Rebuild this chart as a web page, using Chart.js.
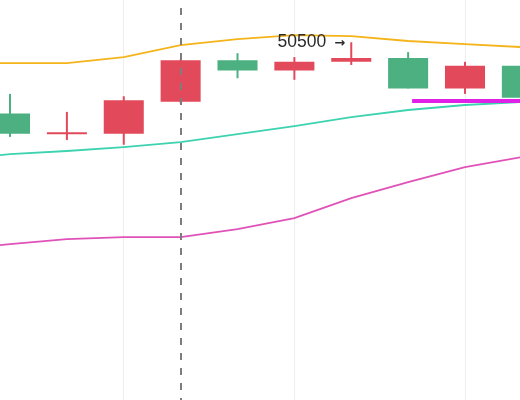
<!DOCTYPE html>
<html>
<head>
<meta charset="utf-8">
<script src="https://cdn.jsdelivr.net/npm/chart.js@4.4.0/dist/chart.umd.min.js"></script>
<style>
    html, body { margin: 0; padding: 0; background: #ffffff; }
</style>
</head>
<body>
<canvas id="chart" width="520" height="400"></canvas>
<script>
// candle values, one per session
var sessions = [0, 1, 2, 3, 4, 5, 6, 7, 8, 9];
var opens  = [49965, 49975, 50180, 50435, 50370, 50425, 50450, 50255, 50400, 50195];
var closes = [50095, 49962, 49965, 50170, 50435, 50370, 50425, 50450, 50255, 50400];
var highs  = [50220, 50105, 50205, 50440, 50480, 50455, 50550, 50487, 50425, 50420];
var lows   = [49945, 49925, 49895, 50160, 50320, 50310, 50405, 50255, 50220, 50170];

// overlay lines (they start one session earlier than the visible candles)
var lineSessions = [-1, 0, 1, 2, 3, 4, 5, 6, 7, 8, 9];
var upperBand = [50417, 50417, 50417, 50455, 50532, 50570, 50596, 50589, 50558, 50538, 50519];
var midLine   = [49799, 49835, 49855, 49880, 49912, 49963, 50014, 50072, 50117, 50149, 50168];
var lowerLine = [49224, 49260, 49292, 49305, 49305, 49356, 49426, 49554, 49656, 49752, 49816];

// support level segment
var levelFrom = 7.07;
var levelTo = 10;
var levelValue = 50175;

// crosshair and price marker
var crosshairIndex = 3;
var markerIndex = 6;
var markerValue = 50500;

var xGridTicks = [2, 5, 8];
var yStep = 500;

var upColor = '#4cb080';
var downColor = '#e2495a';

function toPoints(values) {
    return values.map(function (v, i) { return { x: lineSessions[i], y: v }; });
}

var candleColors = sessions.map(function (s, i) {
    return closes[i] >= opens[i] ? upColor : downColor;
});

var bodies = sessions.map(function (s, i) { return { x: s, y: [opens[i], closes[i]] }; });
var wicks = sessions.map(function (s, i) { return { x: s, y: [lows[i], highs[i]] }; });

var markerPlugin = {
    id: 'marker',
    afterDatasetsDraw: function (chart) {
        var ctx = chart.ctx;
        var xs = chart.scales.x;
        var ys = chart.scales.y;
        var area = chart.chartArea;
        var cx = Math.round(xs.getPixelForValue(crosshairIndex));
        var mx = xs.getPixelForValue(markerIndex);
        var my = ys.getPixelForValue(markerValue) - 3;

        ctx.save();
        ctx.strokeStyle = '#7d7d7d';
        ctx.lineWidth = 2;
        ctx.setLineDash([7, 8]);
        ctx.lineDashOffset = 7;
        ctx.beginPath();
        ctx.moveTo(cx, area.top);
        ctx.lineTo(cx, area.bottom);
        ctx.stroke();

        // price label with arrow pointing at the candle
        ctx.setLineDash([]);
        ctx.fillStyle = '#2b2b2b';
        ctx.textAlign = 'right';
        ctx.textBaseline = 'alphabetic';
        ctx.font = '17.5px "Liberation Sans", Arial, sans-serif';
        ctx.fillText(String(markerValue), mx - 25, my);
        ctx.font = 'bold 13px "DejaVu Sans", sans-serif';
        ctx.fillText('\u2192', mx - 6, my);
        ctx.restore();
    }
};

var ctx = document.getElementById('chart').getContext('2d');
new Chart(ctx, {
    type: 'bar',
    data: {
        datasets: [
            {
                type: 'line',
                label: 'Level',
                data: [{ x: levelFrom, y: levelValue }, { x: levelTo, y: levelValue }],
                borderColor: '#e020e6',
                borderWidth: 4,
                pointRadius: 0,
                tension: 0
            },
            {
                label: 'Body',
                data: bodies,
                backgroundColor: candleColors,
                borderWidth: 0,
                grouped: false,
                barPercentage: 0.88,
                categoryPercentage: 0.8
            },
            {
                label: 'Wick',
                data: wicks,
                backgroundColor: candleColors,
                borderWidth: 0,
                grouped: false,
                maxBarThickness: 2
            },
            {
                type: 'line',
                label: 'Upper',
                data: toPoints(upperBand),
                borderColor: '#f4b41a',
                borderWidth: 1.8,
                pointRadius: 0,
                tension: 0
            },
            {
                type: 'line',
                label: 'Middle',
                data: toPoints(midLine),
                borderColor: '#3dd3b0',
                borderWidth: 1.8,
                pointRadius: 0,
                tension: 0
            },
            {
                type: 'line',
                label: 'Lower',
                data: toPoints(lowerLine),
                borderColor: '#e052b8',
                borderWidth: 1.8,
                pointRadius: 0,
                tension: 0
            }
        ]
    },
    options: {
        responsive: false,
        animation: false,
        layout: { padding: 0 },
        plugins: {
            legend: { display: false },
            tooltip: { enabled: false }
        },
        scales: {
            x: {
                type: 'linear',
                min: -0.176,
                max: 8.967,
                offset: false,
                grid: { offset: false, color: '#eeeeee', drawTicks: false },
                border: { display: false },
                ticks: { display: false },
                afterBuildTicks: function (scale) {
                    scale.ticks = xGridTicks.map(function (v) { return { value: v }; });
                }
            },
            y: {
                type: 'linear',
                min: 48264,
                max: 50820,
                beginAtZero: false,
                grid: { color: '#eeeeee', drawTicks: false },
                border: { display: false },
                ticks: { display: false, stepSize: yStep },
                afterBuildTicks: function (scale) {
                    scale.ticks = scale.ticks.filter(function (t) { return t.value % yStep === 0; });
                }
            }
        }
    },
    plugins: [markerPlugin]
});
</script>
</body>
</html>
